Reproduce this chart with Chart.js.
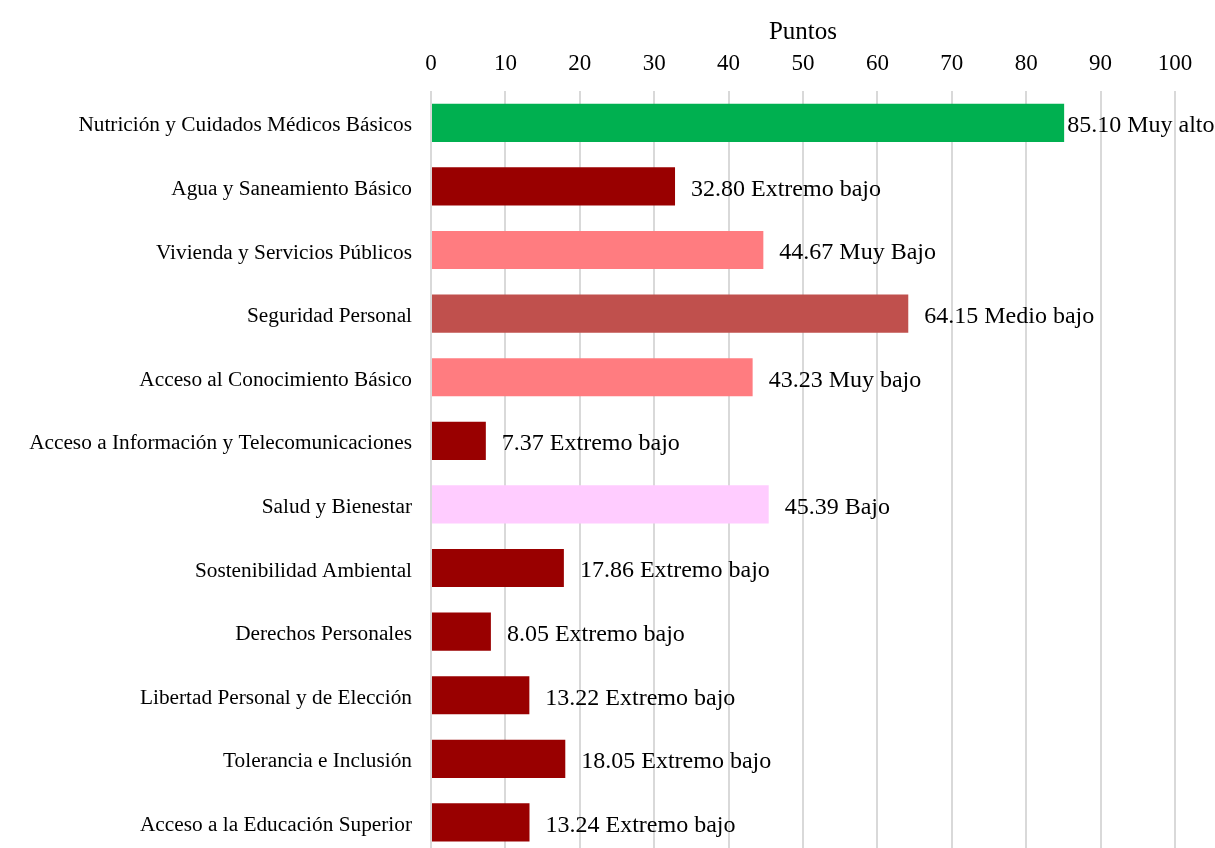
<!DOCTYPE html>
<html>
<head>
<meta charset="utf-8">
<script src="https://cdn.jsdelivr.net/npm/chart.js@4.4.1/dist/chart.umd.min.js"></script>
<style>
  html, body { margin: 0; padding: 0; background: #ffffff; overflow: hidden; }
  canvas { display: block; }
</style>
</head>
<body>
<canvas id="c" width="1215" height="886"></canvas>
<script>
const categories = [
  "Nutrición y Cuidados Médicos Básicos",
  "Agua y Saneamiento Básico",
  "Vivienda y Servicios Públicos",
  "Seguridad Personal",
  "Acceso al Conocimiento Básico",
  "Acceso a Información y Telecomunicaciones",
  "Salud y Bienestar",
  "Sostenibilidad Ambiental",
  "Derechos Personales",
  "Libertad Personal y de Elección",
  "Tolerancia e Inclusión",
  "Acceso a la Educación Superior"
];
const values = [85.10, 32.80, 44.67, 64.15, 43.23, 7.37, 45.39, 17.86, 8.05, 13.22, 18.05, 13.24];
const levels = ["Muy alto", "Extremo bajo", "Muy Bajo", "Medio bajo", "Muy bajo", "Extremo bajo", "Bajo", "Extremo bajo", "Extremo bajo", "Extremo bajo", "Extremo bajo", "Extremo bajo"];
const levelColors = {
  "Muy alto": "#00B050",
  "Extremo bajo": "#990000",
  "Muy Bajo": "#FF7C80",
  "Muy bajo": "#FF7C80",
  "Medio bajo": "#C0504D",
  "Bajo": "#FFCCFF"
};
const axisTitle = "Puntos";

const FONT = "'Liberation Serif', 'Times New Roman', serif";

const labelPlugin = {
  id: 'barLabels',
  afterDatasetsDraw(chart) {
    const ctx = chart.ctx;
    const meta = chart.getDatasetMeta(0);
    ctx.save();
    ctx.font = "24px " + FONT;
    ctx.fillStyle = "#000000";
    ctx.textBaseline = "middle";
    ctx.textAlign = "left";
    meta.data.forEach((bar, i) => {
      const text = values[i].toFixed(2) + " " + levels[i];
      const w = ctx.measureText(text).width;
      let x = bar.x + 16;
      if (x + w > chart.width - 1) x = bar.x + 3;
      ctx.fillText(text, x, bar.y + 3);
    });
    ctx.restore();
  }
};

new Chart(document.getElementById('c'), {
  type: 'bar',
  data: {
    labels: categories,
    datasets: [{
      data: values,
      backgroundColor: levels.map(l => levelColors[l]),
      borderWidth: 0,
      categoryPercentage: 1.0,
      barPercentage: 0.6
    }]
  },
  options: {
    indexAxis: 'y',
    responsive: false,
    animation: false,
    devicePixelRatio: 1,
    layout: { padding: { left: 0, right: 40, top: 0, bottom: 0 } },
    plugins: { legend: { display: false }, tooltip: { enabled: false } },
    scales: {
      x: {
        position: 'top',
        min: 0, max: 100,
        ticks: { stepSize: 10, color: '#000', font: { family: FONT, size: 23 }, padding: 13 },
        grid: { color: '#d9d9d9', lineWidth: 2, drawTicks: false },
        border: { display: false },
        title: { display: true, text: axisTitle, color: '#000', font: { family: FONT, size: 25 }, padding: { top: 17, bottom: 0 } },
        afterFit(scale) { scale.height = 91; }
      },
      y: {
        ticks: { color: '#000', font: { family: FONT, size: 21.3 }, padding: 19, labelOffset: 3 },
        grid: { display: false, drawTicks: false },
        border: { display: false },
        afterFit(scale) { scale.width = 431; }
      }
    }
  },
  plugins: [labelPlugin]
});
</script>
</body>
</html>
